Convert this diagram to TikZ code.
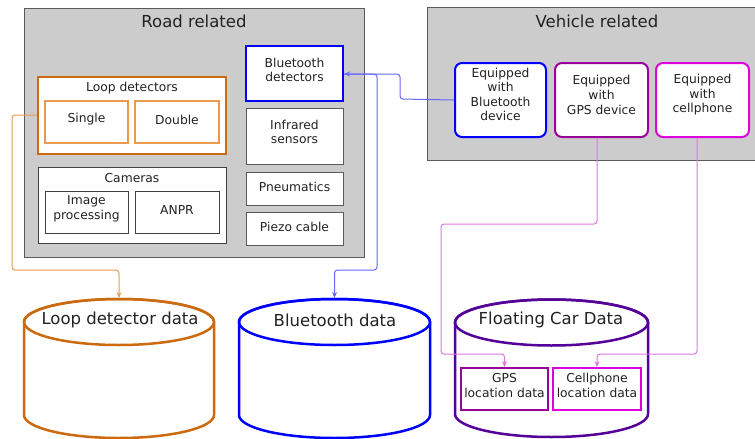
\documentclass[tikz,border=0pt]{standalone}
\usepackage{fontspec}
\setmainfont{DejaVu Sans}
\usetikzlibrary{arrows.meta}

\definecolor{panelfill}{HTML}{CCCCCC}
\definecolor{panelline}{HTML}{5A5A5A}
\definecolor{looporange}{HTML}{CC6A10}
\definecolor{looplight}{HTML}{E99A4E}
\definecolor{looplink}{HTML}{E89A50}
\definecolor{btblue}{HTML}{0000FF}
\definecolor{btlink}{HTML}{6666FF}
\definecolor{gpspurple}{HTML}{990099}
\definecolor{cellmagenta}{HTML}{DD00DD}
\definecolor{fcdindigo}{HTML}{550099}
\definecolor{pinklink}{HTML}{DD77DD}
\definecolor{textdark}{HTML}{222222}

\tikzset{
  panel/.style={draw=panelline, fill=panelfill, line width=1pt, inner sep=0pt},
  plainbox/.style={draw=panelline, fill=white, line width=1pt, inner sep=0pt},
  darkbox/.style={draw=black!75, fill=white, line width=1pt, inner sep=0pt},
  loopbox/.style={draw=looporange, fill=white, line width=2pt, inner sep=0pt},
  loopsub/.style={draw=looplight, fill=white, line width=1.1pt, inner sep=0pt},
  btbox/.style={draw=btblue, fill=white, line width=2pt, inner sep=0pt},
  devbox/.style={fill=white, line width=2pt, rounded corners=7pt, inner sep=0pt},
  locbox/.style={fill=white, line width=2pt, inner sep=0pt},
  bigtxt/.style={font=\fontsize{16.5}{20}\selectfont, text=textdark, inner sep=0pt},
  smalltxt/.style={font=\fontsize{12.3}{14.6}\selectfont, text=textdark, align=center, inner sep=0pt},
  link/.style={line width=1pt, rounded corners=3pt, -{Stealth[length=6pt,width=5pt]}},
  dbline/.style={line width=2.5pt}
}

\begin{document}
\begin{tikzpicture}[x=1pt, y=-1pt]
\useasboundingbox (0,0) rectangle (755,439);

% ---------- road related panel ----------
\node[panel, minimum width=340pt, minimum height=249pt] (road) at (194.5,132.5) {};
\node[bigtxt] (roadT) at (194,21) {Road related};

\node[btbox, minimum width=97pt, minimum height=55pt] (btdet) at (294.5,73.5) {};
\node[smalltxt] (btdetT) at (294.5,70) {Bluetooth\\detectors};
\node[plainbox, minimum width=97pt, minimum height=56pt] (ir) at (294.5,136) {};
\node[smalltxt] (irT) at (294.5,132) {Infrared\\sensors};
\node[plainbox, minimum width=97pt, minimum height=33pt] (pneu) at (294.5,188.5) {};
\node[smalltxt] (pneuT) at (294.5,186.5) {Pneumatics};
\node[plainbox, minimum width=97pt, minimum height=33pt] (piezo) at (294.5,228.5) {};
\node[smalltxt] (piezoT) at (294.5,226.5) {Piezo cable};

\node[loopbox, minimum width=188pt, minimum height=77pt] (loop) at (132,115.5) {};
\node[smalltxt] (loopT) at (132,88.5) {Loop detectors};
\node[loopsub, minimum width=83pt, minimum height=42pt] (single) at (86.5,122) {};
\node[smalltxt] (singleT) at (86.5,119.5) {Single};
\node[loopsub, minimum width=84pt, minimum height=42pt] (double) at (177,122) {};
\node[smalltxt] (doubleT) at (177,119.5) {Double};

\node[darkbox, minimum width=188pt, minimum height=76pt] (cam) at (132,205) {};
\node[smalltxt] (camT) at (132,178.5) {Cameras};
\node[darkbox, minimum width=83pt, minimum height=42pt] (imgp) at (86.5,212) {};
\node[smalltxt] (imgpT) at (86.5,208.5) {Image\\processing};
\node[darkbox, minimum width=84pt, minimum height=42pt] (anpr) at (177,212) {};
\node[smalltxt] (anprT) at (177,210) {ANPR};

% ---------- vehicle related panel ----------
\node[panel, minimum width=332pt, minimum height=153pt] (veh) at (593,83.5) {};
\node[bigtxt] (vehT) at (597,21) {Vehicle related};

\node[devbox, draw=btblue, minimum width=91pt, minimum height=74pt] (dbt) at (500.5,100) {};
\node[smalltxt] (dbtT) at (500.5,94.5) {Equipped\\with\\Bluetooth\\device};
\node[devbox, draw=gpspurple, minimum width=93pt, minimum height=74pt] (dgps) at (601.5,100) {};
\node[smalltxt] (dgpsT) at (601.5,95) {Equipped\\with\\GPS device};
\node[devbox, draw=cellmagenta, minimum width=93pt, minimum height=74pt] (dcell) at (702.5,100) {};
\node[smalltxt] (dcellT) at (702.5,95) {Equipped\\with\\cellphone};

% ---------- data stores ----------
% loop detector data
\draw[dbline, draw=looporange, fill=white]
  (24,322) -- (24,415) arc[start angle=180, end angle=360, x radius=95pt, y radius=23pt]
  -- (214,322) arc[start angle=0, end angle=180, x radius=95pt, y radius=23pt] -- cycle;
\draw[dbline, draw=looporange] (119,322) ellipse[x radius=95pt, y radius=23pt];
\coordinate (loopdb) at (119,298);
\node[bigtxt] (loopdbT) at (120,320) {Loop detector data};

% bluetooth data
\draw[dbline, draw=btblue, fill=white]
  (239,322) -- (239,415) arc[start angle=180, end angle=360, x radius=95.5pt, y radius=23pt]
  -- (430,322) arc[start angle=0, end angle=180, x radius=95.5pt, y radius=23pt] -- cycle;
\draw[dbline, draw=btblue] (334.5,322) ellipse[x radius=95.5pt, y radius=23pt];
\coordinate (btdb) at (334.5,298);
\node[bigtxt] (btdbT) at (335,320) {Bluetooth data};

% floating car data
\draw[dbline, draw=fcdindigo, fill=white]
  (455,322.5) -- (455,414) arc[start angle=180, end angle=360, x radius=96.5pt, y radius=23pt]
  -- (648,322.5) arc[start angle=0, end angle=180, x radius=96.5pt, y radius=23pt] -- cycle;
\draw[dbline, draw=fcdindigo] (551.5,322.5) ellipse[x radius=96.5pt, y radius=23pt];
\node[bigtxt] (fcdT) at (551,320) {Floating Car Data};

\node[locbox, draw=gpspurple, minimum width=87pt, minimum height=42pt] (gpsloc) at (504.5,389) {};
\node[smalltxt] (gpslocT) at (504.5,385.5) {GPS\\location data};
\node[locbox, draw=cellmagenta, minimum width=88pt, minimum height=42pt] (cellloc) at (597,389) {};
\node[smalltxt] (celllocT) at (597,385.5) {Cellphone\\location data};

% ---------- connectors ----------
\draw[link, draw=btlink] (dbt.west) -- (400,99) -- (400,74) -- (btdet.east |- 0,74);
\draw[link, draw=btlink] (btdet.east |- 0,74) -- (377,74) -- (377,270) -- (334.5,270) -- (btdb);
\draw[link, draw=looplink] (loop.west |- 0,115) -- (12,115) -- (12,270) -- (119,270) -- (loopdb);
\draw[link, draw=pinklink] (dgps.south -| 597,0) -- (597,224) -- (441,224) -- (441,354) -- (504.5,354) -- (gpsloc.north);
\draw[link, draw=pinklink] (dcell.south -| 697,0) -- (697,354) -- (597,354) -- (cellloc.north);
\end{tikzpicture}
\end{document}
